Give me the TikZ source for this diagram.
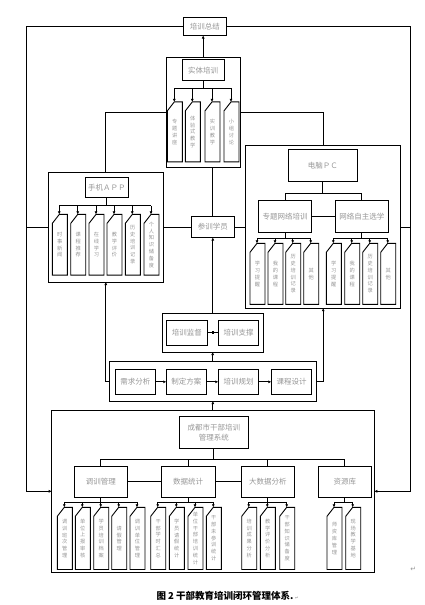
\documentclass[tikz,border=0pt]{standalone}
\usepackage{fontspec}
\setmainfont{Noto Sans CJK SC}
\newfontfamily\symfont{DejaVu Sans}
\usetikzlibrary{arrows.meta,calc}
\definecolor{txtgray}{RGB}{150,150,150}
\newcommand\vitem[6]{%
  \node[itemnode, minimum height={#4-#3}] (#1) at ({#2+0.5},{(#3+#4)/2}) {#6};
  \coordinate (#1t) at ([xshift=7pt]#1.north west);
  \draw[itemline] (#1t) -- (#1.north east) -- (#1.south east) -- (#1.south west) -- ([yshift=-9pt]#1.north west) -- cycle;
  \draw[arr] (#1t |- #5) -- (#1t);
}
\begin{document}
\begin{tikzpicture}[x=1pt,y=-1pt,
  line width=0.8pt,
  box/.style={draw, line width=0.9pt, rectangle, inner sep=0pt, outer sep=0pt, align=center, text=txtgray, font=\fontsize{7.5}{9.5}\selectfont},
  frame/.style={draw, line width=0.9pt, rectangle, inner sep=0pt, outer sep=0pt},
  itemnode/.style={rectangle, inner sep=0pt, outer sep=0pt, minimum width=15pt, align=center, text=txtgray, font=\fontsize{5.2}{6.8}\selectfont},
  itemline/.style={draw, line width=0.9pt, line join=miter},
  arr/.style={-{Latex[length=3pt,width=3pt]}},
]
\useasboundingbox (0,0) rectangle (425,605);

% ---------- frames ----------
\node[frame, minimum width=74.3pt, minimum height=110.6pt] (shiti) at (203.15,112.6) {};
\node[frame, minimum width=115pt, minimum height=110pt] (app) at (105.8,227) {};
\node[frame, minimum width=155pt, minimum height=162.3pt] (pc) at (323.2,227) {};
\node[frame, minimum width=100.7pt, minimum height=39pt] (sup) at (212.65,332.5) {};
\node[frame, minimum width=207.7pt, minimum height=39.3pt] (plan) at (212.85,381.45) {};
\node[frame, minimum width=322.6pt, minimum height=162.4pt] (bot) at (213,491.3) {};

% ---------- boxes ----------
\node[box, minimum width=43pt, minimum height=18pt] (zj) at (204.8,26.5) {培训总结};
\node[box, minimum width=41.7pt, minimum height=21pt] (stin) at (203.15,70.4) {实体培训};
\node[box, minimum width=43pt, minimum height=19.8pt] (appin) at (106.8,187.2) {手机ＡＰＰ};
\node[box, minimum width=43pt, minimum height=21pt] (cxxy) at (212.8,227) {参训学员};
\node[box, minimum width=69pt, minimum height=31.5pt] (pcin) at (322.8,165.65) {电脑ＰＣ};
\node[box, minimum width=52.6pt, minimum height=31.9pt] (zt) at (285,216.85) {专题网络培训};
\node[box, minimum width=53pt, minimum height=31.9pt] (zz) at (361.8,216.85) {网络自主选学};
\node[box, minimum width=41.7pt, minimum height=25.2pt] (jd) at (186.85,332.7) {培训监督};
\node[box, minimum width=40.4pt, minimum height=25.2pt] (zc) at (238.5,332.7) {培训支撑};
\node[box, minimum width=40pt, minimum height=25.1pt] (xq) at (135.3,381.85) {需求分析};
\node[box, minimum width=40pt, minimum height=25.1pt] (zd) at (186.3,381.85) {制定方案};
\node[box, minimum width=40.4pt, minimum height=25.1pt] (gh) at (238.5,381.85) {培训规划};
\node[box, minimum width=40.4pt, minimum height=25.1pt] (kc) at (291.5,381.85) {课程设计};
\node[box, minimum width=69pt, minimum height=31.9pt] (cds) at (213.8,432.85) {成都市干部培训\\管理系统};
\node[box, minimum width=53pt, minimum height=31.5pt] (dx) at (100.8,481.75) {调训管理};
\node[box, minimum width=53.7pt, minimum height=31.5pt] (sj) at (188.15,481.75) {数据统计};
\node[box, minimum width=53pt, minimum height=31.5pt] (dsj) at (267.8,481.75) {大数据分析};
\node[box, minimum width=53pt, minimum height=31.5pt] (zy) at (344.8,481.75) {资源库};

% ---------- items: 实体培训 ----------
\coordinate (bS) at (0,88);
\vitem{s1}{174.3}{101.9}{161.9}{bS}{专\\题\\讲\\座}
\vitem{s2}{192.3}{101.9}{161.9}{bS}{体\\验\\式\\教\\学}
\vitem{s3}{212}{101.9}{161.9}{bS}{实\\训\\教\\学}
\vitem{s4}{231}{101.9}{161.9}{bS}{小\\组\\讨\\论}
\draw (stin.south) -- (stin.south |- bS);
\draw (s1t |- bS) -- (s4t |- bS);

% ---------- items: 手机APP ----------
\coordinate (bA) at (0,205.8);
\vitem{a1}{59.3}{214.4}{275.1}{bA}{时\\事\\新\\闻}
\vitem{a2}{77.7}{214.4}{275.1}{bA}{课\\程\\推\\荐}
\vitem{a3}{96}{214.4}{275.1}{bA}{在\\线\\学\\习}
\vitem{a4}{114}{214.4}{275.1}{bA}{教\\学\\评\\价}
\vitem{a5}{132.3}{214.4}{275.1}{bA}{历\\史\\培\\训\\记\\录}
\vitem{a6}{151}{214.4}{275.1}{bA}{个\\人\\知\\识\\储\\备\\度}
\draw (appin.south) -- (appin.south |- bA);
\draw (a1t |- bA) -- (a6t |- bA);

% ---------- items: 电脑PC ----------
\coordinate (bP) at (0,238.8);
\vitem{p1}{257}{243.3}{304.4}{bP}{学\\习\\提\\醒}
\vitem{p2}{275}{243.3}{304.4}{bP}{我\\的\\课\\程}
\vitem{p3}{292.7}{243.3}{304.4}{bP}{历\\史\\培\\训\\记\\录}
\vitem{p4}{310.7}{243.3}{304.4}{bP}{其\\他}
\vitem{q1}{333.3}{243.3}{304.4}{bP}{学\\习\\提\\醒}
\vitem{q2}{351.7}{243.3}{304.4}{bP}{我\\的\\课\\程}
\vitem{q3}{369.7}{243.3}{304.4}{bP}{历\\史\\培\\训\\记\\录}
\vitem{q4}{387.7}{243.3}{304.4}{bP}{其\\他}
\draw (zt.south) -- (zt.south |- bP);
\draw (zz.south) -- (zz.south |- bP);
\draw (p1t |- bP) -- (p4t |- bP);
\draw (q1t |- bP) -- (q4t |- bP);

% ---------- items: bottom system ----------
\coordinate (bB) at (0,502.4);
\vitem{d1}{64.3}{507.3}{569.5}{bB}{调\\训\\班\\次\\管\\理}
\vitem{d2}{82.3}{507.3}{569.5}{bB}{单\\位\\上\\报\\审\\核}
\vitem{d3}{100.7}{507.3}{569.5}{bB}{学\\员\\培\\训\\档\\案}
\vitem{d4}{118.7}{507.3}{569.5}{bB}{请\\假\\管\\理}
\vitem{d5}{137}{507.3}{569.5}{bB}{调\\训\\单\\位\\管\\理}
\vitem{t1}{157.7}{507.3}{569.5}{bB}{干\\部\\学\\时\\汇\\总}
\vitem{t2}{176.3}{507.3}{569.5}{bB}{学\\员\\请\\假\\统\\计}
\vitem{t3}{195}{507.3}{569.5}{bB}{单\\位\\干\\部\\培\\训\\统\\计}
\vitem{t4}{213.3}{507.3}{569.5}{bB}{干\\部\\未\\参\\训\\统\\计}
\vitem{g1}{248.7}{507.3}{569.5}{bB}{培\\训\\成\\果\\分\\析}
\vitem{g2}{267.3}{507.3}{569.5}{bB}{教\\学\\评\\价\\分\\析}
\vitem{g3}{286.7}{507.3}{569.5}{bB}{干\\部\\知\\识\\储\\备\\度}
\vitem{r1}{334}{507.3}{569.5}{bB}{师\\资\\库\\管\\理}
\vitem{r2}{352.7}{507.3}{569.5}{bB}{现\\场\\教\\学\\基\\地}
\draw (dx.south) -- (dx.south |- bB);
\draw (sj.south) -- (sj.south |- bB);
\draw (dsj.south) -- (dsj.south |- bB);
\draw (zy.south) -- (zy.south |- bB);
\draw (d1t |- bB) -- (d5t |- bB);
\draw (t1t |- bB) -- (t4t |- bB);
\draw (g1t |- bB) -- (g3t |- bB);
\draw (r1t |- bB) -- (r2t |- bB);

% ---------- PC tree ----------
\coordinate (jpc) at (322.8,193.8);
\draw (pcin.south) -- (jpc);
\draw (zt.north) |- (jpc) -| (zz.north);
\draw (zt.east) -- (zz.west);

% ---------- system tree ----------
\coordinate (jb) at (213.8,458.9);
\draw (cds.south) -- (jb);
\draw (dx.north) |- (jb) -| (zy.north);
\draw (sj.north) -- (sj.north |- jb);
\draw (dsj.north) -- (dsj.north |- jb);
\draw (dx.east) -- (sj.west);
\draw (sj.east) -- (dsj.west);

% ---------- planning chain ----------
\draw[arr] (xq.east) -- (zd.west);
\draw[arr] (zd.east) -- (gh.west);
\draw[arr] (gh.east) -- (kc.west);
\draw (jd.east) -- (zc.west);
\node[fill, minimum size=2.6pt, inner sep=0pt, outer sep=0pt] (jdm) at ($(jd.east)!0.5!(zc.west)$) {};

% ---------- main connectors ----------
\draw[arr] (shiti.north) -- (shiti.north |- zj.south);
\draw (cxxy.north |- shiti.south) -- (cxxy.north);
\draw (app.north) |- (shiti.west);
\draw (pc.north) |- (shiti.east);
\draw (cxxy.west) -- (cxxy.west -| app.east);
\draw (cxxy.east) -- (cxxy.east -| pc.west);
\draw[arr] (cxxy.south |- sup.north) -- (cxxy.south);
\draw[arr] (sup.south |- plan.north) -- (sup.south);
\draw[arr] (plan.south |- bot.north) -- (plan.south);
\draw[arr] (plan.west) -| (app.south);
\draw[arr] (plan.east) -| (pc.south);

% ---------- outer loop ----------
\coordinate (L) at (26.7,26.5);
\coordinate (R) at (410,26.5);
\draw[arr] (zj.west) -- (L) |- (bot.west);
\draw[arr] (zj.east) -- (R) |- (bot.east);
\draw (app.west) -- (app.west -| L);
\draw (pc.east) -- (pc.east -| R);

% ---------- caption ----------
\node[font=\fontsize{9.5}{11}\selectfont\bfseries, inner sep=0pt] (cap) at (227.5,595.5) {图 2 干部教育培训闭环管理体系.\,{\symfont\fontsize{4}{4}\selectfont\color{txtgray}↵}};
\node[font=\symfont\fontsize{7}{8}\selectfont, text=txtgray, inner sep=0pt] (ret) at (413.3,569.5) {↵};
\end{tikzpicture}
\end{document}
